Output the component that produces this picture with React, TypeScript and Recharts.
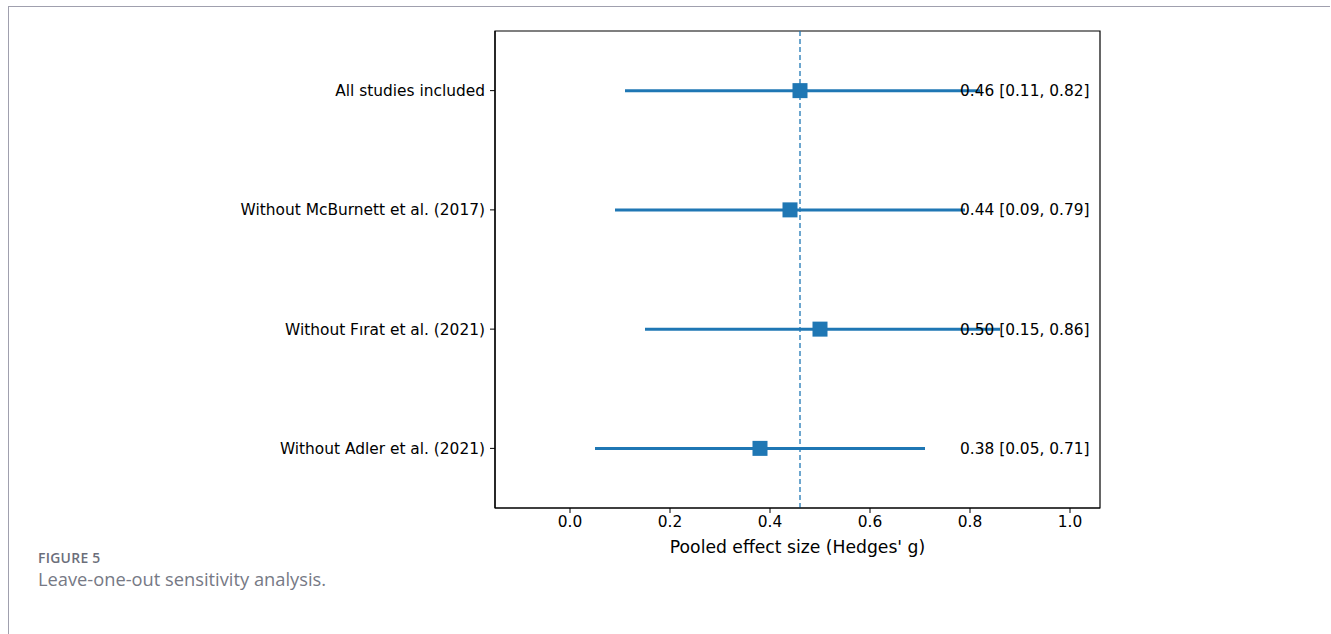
import React from "react";
import {
  ComposedChart,
  XAxis,
  YAxis,
  Scatter,
  ReferenceLine,
  ReferenceDot,
  ReferenceArea,
} from "recharts";

const studyLabels = [
  "All studies included",
  "Without McBurnett et al. (2017)",
  "Without Fırat et al. (2021)",
  "Without Adler et al. (2021)",
];
const estimates = [0.46, 0.44, 0.5, 0.38];
const lowerCI = [0.11, 0.09, 0.15, 0.05];
const upperCI = [0.82, 0.79, 0.86, 0.71];
const xTicks = [0, 0.2, 0.4, 0.6, 0.8, 1.0];
const xDomain: [number, number] = [-0.15, 1.06];
const yDomain: [number, number] = [-0.5, 3.5];
const labelX = 0.78;

const BLUE = "#1f77b4";
const FONT = "'DejaVu Sans', sans-serif";

const rows = studyLabels.map((name, i) => ({
  name,
  idx: i,
  est: estimates[i],
  lo: lowerCI[i],
  hi: upperCI[i],
  text: `${estimates[i].toFixed(2)} [${lowerCI[i].toFixed(2)}, ${upperCI[i].toFixed(2)}]`,
}));

const SquareMarker = (props: any) => {
  const { cx, cy } = props;
  if (cx == null || cy == null) return null;
  const s = 15;
  return <rect x={cx - s / 2} y={cy - s / 2} width={s} height={s} fill={BLUE} />;
};

export default function App() {
  return (
    <div
      style={{
        position: "absolute",
        left: 0,
        top: 0,
        width: 1331,
        height: 634,
        background: "#fff",
        overflow: "hidden",
      }}
    >
      <div style={{ position: "absolute", left: 8, top: 6, width: 1322, height: 1, background: "#a0a0ae" }} />
      <div style={{ position: "absolute", left: 8, top: 6, width: 1, height: 628, background: "#a0a0ae" }} />
      <div style={{ position: "absolute", left: 0, top: 0 }}>
        <ComposedChart
          width={1331}
          height={634}
          data={rows}
          margin={{ top: 31, right: 231, bottom: 66, left: 245 }}
          style={{ fontFamily: FONT }}
        >
          <XAxis
            type="number"
            dataKey="est"
            domain={xDomain}
            ticks={xTicks}
            allowDataOverflow
            height={60}
            tickFormatter={(v: number) => v.toFixed(1)}
            tick={{ fill: "#000", fontSize: 15.4, fontFamily: FONT }}
            tickSize={5}
            tickMargin={3}
            axisLine={{ stroke: "#000", strokeWidth: 1.2 }}
            tickLine={{ stroke: "#000", strokeWidth: 1 }}
            label={{
              value: "Pooled effect size (Hedges' g)",
              position: "insideBottom",
              offset: 15,
              fill: "#000",
              fontSize: 17.2,
              fontFamily: FONT,
            }}
          />
          <YAxis
            type="number"
            dataKey="idx"
            domain={yDomain}
            reversed
            ticks={rows.map((r) => r.idx)}
            allowDataOverflow
            width={250}
            tickFormatter={(v: number) => studyLabels[v] ?? ""}
            tick={{ fill: "#000", fontSize: 15.4, fontFamily: FONT }}
            tickSize={5}
            tickMargin={5}
            axisLine={{ stroke: "#000", strokeWidth: 1.2 }}
            tickLine={{ stroke: "#000", strokeWidth: 1 }}
          />
          <ReferenceArea
            x1={xDomain[0]}
            x2={xDomain[1]}
            y1={yDomain[0]}
            y2={yDomain[1]}
            fill="none"
            fillOpacity={0}
            stroke="#000"
            strokeWidth={1.2}
          />
          <ReferenceLine
            x={estimates[0]}
            stroke={BLUE}
            strokeWidth={1.3}
            strokeDasharray="5 3"
          />
          {rows.map((r) => (
            <ReferenceLine
              key={"ci" + r.idx}
              segment={[
                { x: r.lo, y: r.idx },
                { x: r.hi, y: r.idx },
              ]}
              stroke={BLUE}
              strokeWidth={3}
            />
          ))}
          <Scatter
            dataKey="idx"
            data={rows}
            fill={BLUE}
            shape={<SquareMarker />}
            isAnimationActive={false}
          />
          {rows.map((r) => (
            <ReferenceDot
              key={"lbl" + r.idx}
              x={labelX}
              y={r.idx}
              r={0}
              fill="none"
              stroke="none"
              label={{
                value: r.text,
                position: "right",
                offset: 0,
                fill: "#000",
                fontSize: 15.4,
                fontFamily: FONT,
              }}
            />
          ))}
        </ComposedChart>
      </div>
      <div
        style={{
          position: "absolute",
          left: 38,
          top: 548,
          fontFamily: "'Open Sans', sans-serif",
          fontSize: 13.9,
          fontWeight: 600,
          color: "#6b6e7a",
          letterSpacing: 0.3,
        }}
      >
        FIGURE 5
      </div>
      <div
        style={{
          position: "absolute",
          left: 38,
          top: 566,
          fontFamily: "'Open Sans', sans-serif",
          fontSize: 18.3,
          fontWeight: 400,
          color: "#767985",
        }}
      >
        Leave-one-out sensitivity analysis.
      </div>
    </div>
  );
}
